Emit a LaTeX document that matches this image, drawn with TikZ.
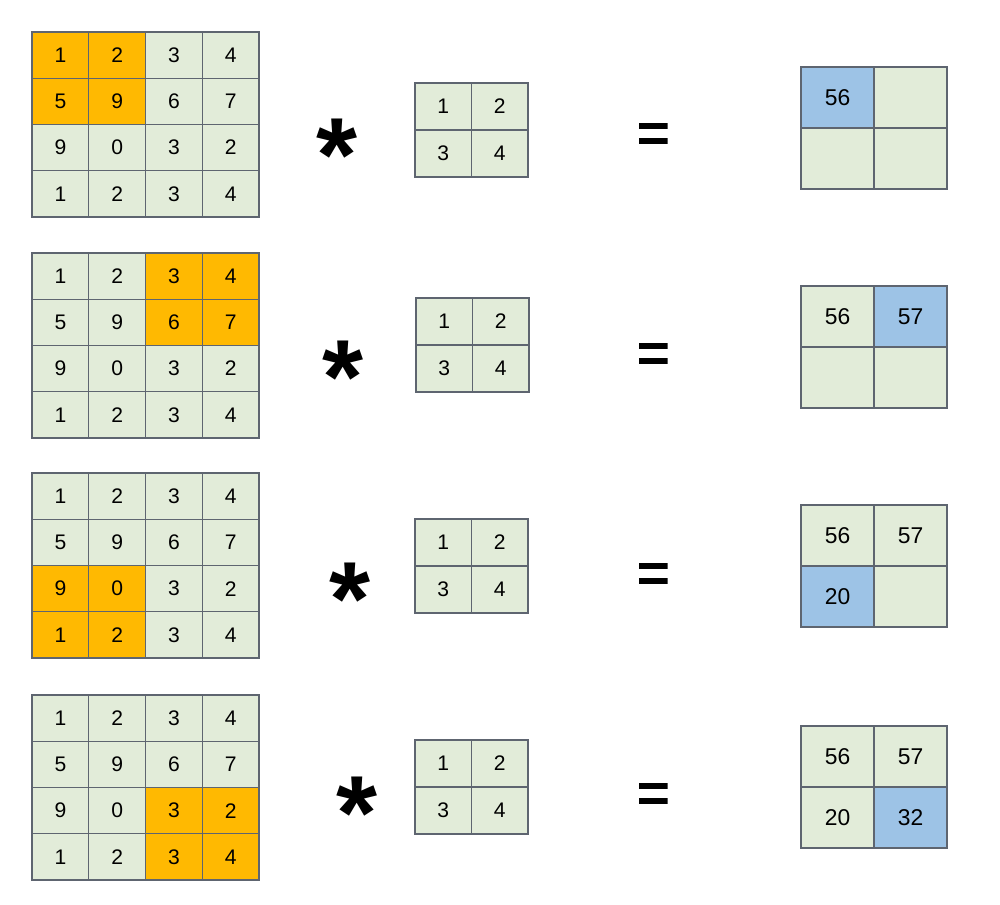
\documentclass[tikz,border=0pt]{standalone}
\usepackage{fontspec}
\setmainfont{Liberation Sans}
\definecolor{cellgreen}{HTML}{E2ECD9}
\definecolor{cellorange}{HTML}{FFB901}
\definecolor{cellblue}{HTML}{9DC3E6}
\definecolor{cellline}{HTML}{5E6570}
\begin{document}
\begin{tikzpicture}[x=0.02cm,y=-0.02cm,
  cellbase/.style={draw=cellline,line width=0.8pt,inner sep=0pt,font=\fontsize{12}{12}\selectfont,text=black},
  bigcell/.style={cellbase,minimum width=1.135cm,minimum height=0.925cm},
  kercell/.style={cellbase,fill=cellgreen,minimum width=1.13cm,minimum height=0.94cm},
  outcell/.style={cellbase,minimum width=1.46cm,minimum height=1.22cm,font=\fontsize{13}{13}\selectfont},
  opstar/.style={inner sep=0pt,font=\fontsize{60}{60}\bfseries\selectfont},
  opeq/.style={inner sep=0pt,minimum width=0.58cm,minimum height=0.42cm,
    path picture={
      \fill[black] (path picture bounding box.north west) rectangle ([yshift=-0.12cm]path picture bounding box.north east);
      \fill[black] (path picture bounding box.south west) rectangle ([yshift=0.12cm]path picture bounding box.south east);
    }}]
\useasboundingbox[fill=white] (0,0) rectangle (1000,904);
\foreach \r/\Y/\KX/\KY/\OY/\SX/\SY/\EY/\hr/\hc in {1/32/415/83/67/337/155/133/1/1, 2/253/416/298/286/343/377/353/1/3, 3/473/415/519/505/350/599/573/3/1, 4/695/415/740/726/357/813/793/3/3}{
  % big 4x4 grid
  \foreach \i/\j/\v in {1/1/1,1/2/2,1/3/3,1/4/4,2/1/5,2/2/9,2/3/6,2/4/7,3/1/9,3/2/0,3/3/3,3/4/2,4/1/1,4/2/2,4/3/3,4/4/4}{
    \pgfmathtruncatemacro\hl{(\i>=\hr)*(\i<=\hr+1)*(\j>=\hc)*(\j<=\hc+1)}
    \ifnum\hl=1 \def\fc{cellorange}\else\def\fc{cellgreen}\fi
    \node[bigcell,fill=\fc] (b\r-\i-\j) at ({32+56.75*(\j-0.5)},{\Y+46.25*(\i-0.5)}) {\v};
  }
  % kernel
  \foreach \i/\j/\v in {1/1/1,1/2/2,2/1/3,2/2/4}{
    \node[kercell] (k\r-\i-\j) at ({\KX+56.5*(\j-0.5)},{\KY+47*(\i-0.5)}) {\v};
  }
  % output
  \foreach \k/\i/\j/\v in {1/1/1/56,2/1/2/57,3/2/1/20,4/2/2/32}{
    \ifnum\k=\r \def\fc{cellblue}\else\def\fc{cellgreen}\fi
    \ifnum\k>\r \def\tv{}\else\def\tv{\v}\fi
    \node[outcell,fill=\fc] (o\r-\k) at ({801+73*(\j-0.5)},{\OY+61*(\i-0.5)}) {\tv};
  }
  \node[opstar] (star\r) at (\SX,\SY) {*};
  \node[opeq] (eq\r) at (653,\EY) {};
}
\end{tikzpicture}
\end{document}
